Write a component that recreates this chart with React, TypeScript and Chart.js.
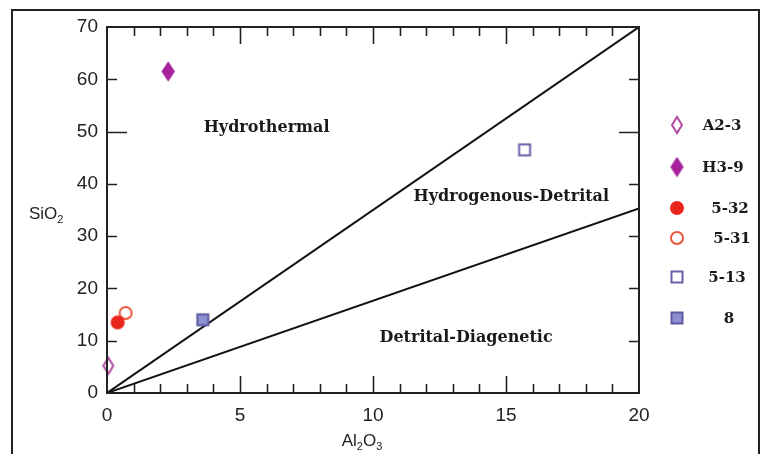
import React, { useEffect, useRef } from "react";
import { Chart, registerables } from "chart.js";

Chart.register(...registerables);

// ---- Data ----
const sampleNames = ["A2-3", "H3-9", "5-32", "5-31", "5-13", "8"];
const al2o3 = [0.05, 2.3, 0.4, 0.7, 15.7, 3.6];
const sio2 = [5.2, 61.5, 13.5, 15.3, 46.5, 14.0];

const boundaryX = [0, 20];
const upperBoundaryY = [0, 70];
const lowerBoundaryY = [0, 35.3];

const fieldLabels = ["Hydrothermal", "Hydrogenous-Detrital", "Detrital-Diagenetic"];
const fieldLabelX = [6.0, 15.2, 13.5];
const fieldLabelY = [50.7, 37.5, 10.5];

const xMin = 0, xMax = 20, xStep = 5;
const yMin = 0, yMax = 70, yStep = 10;

// ---- Marker styles ----
type MarkerKind = "diamond" | "circle" | "square";
const markerKinds: MarkerKind[] = ["diamond", "diamond", "circle", "circle", "square", "square"];
const markerFill = ["#ffffff", "#a8229c", "#e8261c", "#ffffff", "#ffffff", "#8d8fd0"];
const markerStroke = ["#b04aa2", "#a8229c", "#e8261c", "#e8553a", "#6b5fa8", "#5d5aa2"];
const markerW = [12, 13, 14, 14, 14, 14];
const markerH = [18, 19, 14, 14, 14, 14];

function makeMarker(kind: MarkerKind, fill: string, stroke: string, w: number, h: number) {
  const c = document.createElement("canvas");
  c.width = w + 2;
  c.height = h + 2;
  const g = c.getContext("2d")!;
  g.lineWidth = 2;
  g.fillStyle = fill;
  g.strokeStyle = stroke;
  const cx = c.width / 2, cy = c.height / 2;
  g.beginPath();
  if (kind === "diamond") {
    g.moveTo(cx, cy - h / 2 + 1);
    g.lineTo(cx + w / 2 - 1, cy);
    g.lineTo(cx, cy + h / 2 - 1);
    g.lineTo(cx - w / 2 + 1, cy);
    g.closePath();
  } else if (kind === "circle") {
    g.arc(cx, cy, w / 2 - 1, 0, Math.PI * 2);
  } else {
    g.rect(cx - w / 2 + 1.5, cy - h / 2 + 1.5, w - 3, h - 3);
  }
  g.fill();
  g.stroke();
  return c;
}

const frameColor = "#222222";
const serifBold = "'DejaVu Serif', 'Liberation Serif', serif";

let markers: HTMLCanvasElement[] = [];

const decorPlugin = {
  id: "decor",
  afterDraw(chart: any) {
    const ctx = chart.ctx as CanvasRenderingContext2D;
    const xs = chart.scales.x;
    const ys = chart.scales.y;
    const { left, right, top, bottom } = chart.chartArea;
    ctx.save();

    // outer frame
    ctx.strokeStyle = frameColor;
    ctx.lineWidth = 2;
    ctx.strokeRect(12, 10, 747, 460);

    // plot frame
    ctx.strokeRect(left, top, right - left, bottom - top);

    // ticks (inward, mirrored)
    ctx.lineWidth = 1.6;
    ctx.beginPath();
    for (let v = xMin + 1; v < xMax; v += 1) {
      const px = Math.round(xs.getPixelForValue(v)) + 0.5;
      const len = v % 5 === 0 ? 17 : 9;
      ctx.moveTo(px, bottom);
      ctx.lineTo(px, bottom - len);
      ctx.moveTo(px, top);
      ctx.lineTo(px, top + len);
    }
    for (let v = yMin + yStep; v < yMax; v += yStep) {
      const py = Math.round(ys.getPixelForValue(v)) + 0.5;
      const len = v % 50 === 0 ? 20 : 10;
      ctx.moveTo(left, py);
      ctx.lineTo(left + len, py);
      ctx.moveTo(right, py);
      ctx.lineTo(right - len, py);
    }
    ctx.stroke();

    // field labels
    ctx.fillStyle = "#1a1a1a";
    ctx.font = `bold 16px ${serifBold}`;
    ctx.textAlign = "center";
    ctx.textBaseline = "middle";
    fieldLabels.forEach((t, i) => {
      ctx.fillText(t, xs.getPixelForValue(fieldLabelX[i]), ys.getPixelForValue(fieldLabelY[i]));
    });

    // axis titles with subscripts
    const drawSub = (parts: [string, boolean][], x: number, y: number, align: "left" | "center") => {
      const big = "17px 'Liberation Sans', Arial, sans-serif";
      const small = "11px 'Liberation Sans', Arial, sans-serif";
      let total = 0;
      parts.forEach(([s, sub]) => {
        ctx.font = sub ? small : big;
        total += ctx.measureText(s).width;
      });
      let cx = align === "center" ? x - total / 2 : x;
      ctx.textAlign = "left";
      ctx.textBaseline = "alphabetic";
      ctx.fillStyle = "#222";
      parts.forEach(([s, sub]) => {
        ctx.font = sub ? small : big;
        ctx.fillText(s, cx, sub ? y + 4 : y);
        cx += ctx.measureText(s).width;
      });
    };
    drawSub([["SiO", false], ["2", true]], 29, 219, "left");
    drawSub([["Al", false], ["2", true], ["O", false], ["3", true]], 362, 446, "center");

    // legend
    const rowY = [125, 167, 208, 238, 277, 318];
    const labelX = [722, 723, 730, 732, 727, 729];
    ctx.font = `bold 15px ${serifBold}`;
    ctx.textAlign = "center";
    ctx.textBaseline = "middle";
    ctx.fillStyle = "#1a1a1a";
    sampleNames.forEach((n, i) => {
      const img = markers[i];
      ctx.drawImage(img, 677 - img.width / 2, rowY[i] - img.height / 2);
      ctx.fillText(n, labelX[i], rowY[i] + 1);
    });

    ctx.restore();
  },
};

export default function App() {
  const ref = useRef<HTMLCanvasElement | null>(null);
  useEffect(() => {
    markers = sampleNames.map((_, i) =>
      makeMarker(markerKinds[i], markerFill[i], markerStroke[i], markerW[i], markerH[i])
    );
    const lineDs = (ys: number[], label: string) => ({
      type: "line" as const,
      label,
      data: boundaryX.map((x, i) => ({ x, y: ys[i] })),
      borderColor: "#111111",
      borderWidth: 2,
      pointRadius: 0,
      showLine: true,
      fill: false,
      order: 10,
    });
    const pointDs = sampleNames.map((n, i) => ({
      type: "scatter" as const,
      label: n,
      data: [{ x: al2o3[i], y: sio2[i] }],
      pointStyle: markers[i],
      pointRadius: 7,
      clip: false,
      order: 1,
    }));
    const tickFont = { family: "'Liberation Sans', Arial, sans-serif", size: 19 };
    const chart = new Chart(ref.current!, {
      type: "scatter",
      data: { datasets: [lineDs(upperBoundaryY, "upper"), lineDs(lowerBoundaryY, "lower"), ...pointDs] as any },
      options: {
        animation: false,
        responsive: false,
        layout: { padding: { top: 27, right: 122, left: 0, bottom: 0 } },
        plugins: { legend: { display: false }, tooltip: { enabled: false } },
        scales: {
          x: {
            type: "linear",
            min: xMin,
            max: xMax,
            grid: { display: false, drawTicks: false },
            border: { display: false },
            ticks: { stepSize: xStep, padding: 11, color: "#222", font: tickFont },
            afterFit: (s: any) => { s.height = 61; },
          },
          y: {
            type: "linear",
            min: yMin,
            max: yMax,
            grid: { display: false, drawTicks: false },
            border: { display: false },
            ticks: { stepSize: yStep, padding: 9, color: "#222", font: tickFont },
            afterFit: (s: any) => { s.width = 107; },
          },
        },
      },
      plugins: [decorPlugin],
    });
    return () => chart.destroy();
  }, []);
  return (
    <div style={{ position: "fixed", left: 0, top: 0, width: 761, height: 454, background: "#fff" }}>
      <canvas ref={ref} width={761} height={454} />
    </div>
  );
}
